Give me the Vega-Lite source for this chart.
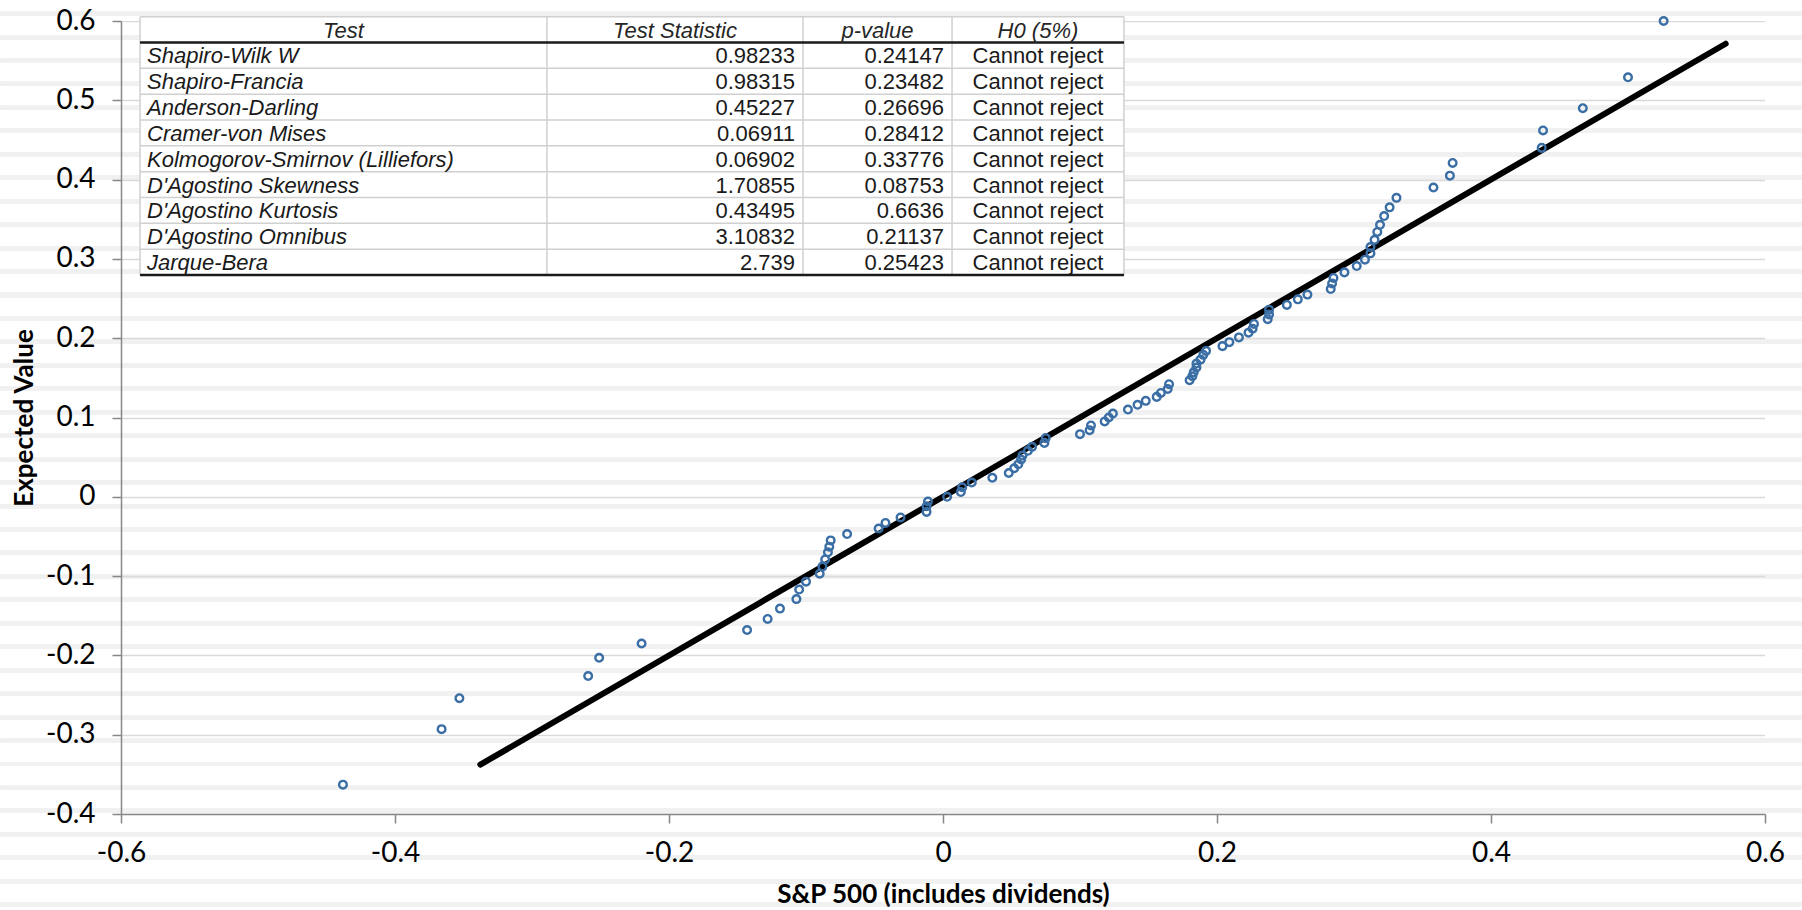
{
  "$schema": "https://vega.github.io/schema/vega-lite/v6.json",
  "width": 1644,
  "height": 793,
  "autosize": {"type": "none"},
  "padding": {"left": 121, "top": 21, "right": 37, "bottom": 96},
  "background": "#ffffff",
  "datasets": {
    "qq": [
      {"sp500": -0.438, "expected": -0.363},
      {"sp500": -0.366, "expected": -0.293},
      {"sp500": -0.353, "expected": -0.254},
      {"sp500": -0.259, "expected": -0.226},
      {"sp500": -0.251, "expected": -0.203},
      {"sp500": -0.220, "expected": -0.185},
      {"sp500": -0.143, "expected": -0.168},
      {"sp500": -0.128, "expected": -0.154},
      {"sp500": -0.119, "expected": -0.141},
      {"sp500": -0.107, "expected": -0.129},
      {"sp500": -0.105, "expected": -0.117},
      {"sp500": -0.100, "expected": -0.107},
      {"sp500": -0.090, "expected": -0.097},
      {"sp500": -0.088, "expected": -0.088},
      {"sp500": -0.086, "expected": -0.079},
      {"sp500": -0.084, "expected": -0.070},
      {"sp500": -0.083, "expected": -0.063},
      {"sp500": -0.082, "expected": -0.055},
      {"sp500": -0.070, "expected": -0.047},
      {"sp500": -0.047, "expected": -0.040},
      {"sp500": -0.042, "expected": -0.033},
      {"sp500": -0.031, "expected": -0.026},
      {"sp500": -0.012, "expected": -0.019},
      {"sp500": -0.012, "expected": -0.012},
      {"sp500": -0.011, "expected": -0.006},
      {"sp500": 0.003, "expected": 0.000},
      {"sp500": 0.013, "expected": 0.006},
      {"sp500": 0.014, "expected": 0.012},
      {"sp500": 0.021, "expected": 0.018},
      {"sp500": 0.036, "expected": 0.024},
      {"sp500": 0.048, "expected": 0.030},
      {"sp500": 0.052, "expected": 0.036},
      {"sp500": 0.055, "expected": 0.041},
      {"sp500": 0.057, "expected": 0.047},
      {"sp500": 0.058, "expected": 0.052},
      {"sp500": 0.062, "expected": 0.058},
      {"sp500": 0.065, "expected": 0.063},
      {"sp500": 0.074, "expected": 0.068},
      {"sp500": 0.075, "expected": 0.074},
      {"sp500": 0.100, "expected": 0.079},
      {"sp500": 0.107, "expected": 0.084},
      {"sp500": 0.108, "expected": 0.090},
      {"sp500": 0.118, "expected": 0.095},
      {"sp500": 0.121, "expected": 0.100},
      {"sp500": 0.124, "expected": 0.105},
      {"sp500": 0.135, "expected": 0.110},
      {"sp500": 0.142, "expected": 0.116},
      {"sp500": 0.148, "expected": 0.121},
      {"sp500": 0.156, "expected": 0.126},
      {"sp500": 0.159, "expected": 0.131},
      {"sp500": 0.164, "expected": 0.136},
      {"sp500": 0.165, "expected": 0.142},
      {"sp500": 0.180, "expected": 0.147},
      {"sp500": 0.182, "expected": 0.152},
      {"sp500": 0.183, "expected": 0.157},
      {"sp500": 0.185, "expected": 0.163},
      {"sp500": 0.185, "expected": 0.168},
      {"sp500": 0.188, "expected": 0.173},
      {"sp500": 0.190, "expected": 0.179},
      {"sp500": 0.192, "expected": 0.184},
      {"sp500": 0.204, "expected": 0.190},
      {"sp500": 0.209, "expected": 0.195},
      {"sp500": 0.216, "expected": 0.201},
      {"sp500": 0.223, "expected": 0.207},
      {"sp500": 0.226, "expected": 0.212},
      {"sp500": 0.227, "expected": 0.218},
      {"sp500": 0.237, "expected": 0.224},
      {"sp500": 0.238, "expected": 0.230},
      {"sp500": 0.238, "expected": 0.236},
      {"sp500": 0.251, "expected": 0.242},
      {"sp500": 0.259, "expected": 0.249},
      {"sp500": 0.266, "expected": 0.255},
      {"sp500": 0.283, "expected": 0.262},
      {"sp500": 0.284, "expected": 0.269},
      {"sp500": 0.285, "expected": 0.276},
      {"sp500": 0.293, "expected": 0.283},
      {"sp500": 0.302, "expected": 0.291},
      {"sp500": 0.308, "expected": 0.299},
      {"sp500": 0.312, "expected": 0.307},
      {"sp500": 0.312, "expected": 0.315},
      {"sp500": 0.315, "expected": 0.324},
      {"sp500": 0.317, "expected": 0.334},
      {"sp500": 0.319, "expected": 0.343},
      {"sp500": 0.322, "expected": 0.354},
      {"sp500": 0.326, "expected": 0.365},
      {"sp500": 0.331, "expected": 0.377},
      {"sp500": 0.358, "expected": 0.390},
      {"sp500": 0.370, "expected": 0.405},
      {"sp500": 0.372, "expected": 0.421},
      {"sp500": 0.437, "expected": 0.440},
      {"sp500": 0.438, "expected": 0.462},
      {"sp500": 0.467, "expected": 0.490},
      {"sp500": 0.500, "expected": 0.529},
      {"sp500": 0.526, "expected": 0.600}
    ],
    "fit": [
      {"sp500": -0.3377, "expected": -0.3377},
      {"sp500": 0.5713, "expected": 0.5713}
    ],
    "header": [
      {"row": 0, "c1": "Test", "c2": "Test Statistic", "c3": "p-value", "c4": "H0 (5%)"}
    ],
    "tests": [
      {"row": 1, "test": "Shapiro-Wilk W", "stat": "0.98233", "p": "0.24147", "h0": "Cannot reject"},
      {"row": 2, "test": "Shapiro-Francia", "stat": "0.98315", "p": "0.23482", "h0": "Cannot reject"},
      {"row": 3, "test": "Anderson-Darling", "stat": "0.45227", "p": "0.26696", "h0": "Cannot reject"},
      {"row": 4, "test": "Cramer-von Mises", "stat": "0.06911", "p": "0.28412", "h0": "Cannot reject"},
      {"row": 5, "test": "Kolmogorov-Smirnov (Lilliefors)", "stat": "0.06902", "p": "0.33776", "h0": "Cannot reject"},
      {"row": 6, "test": "D'Agostino Skewness", "stat": "1.70855", "p": "0.08753", "h0": "Cannot reject"},
      {"row": 7, "test": "D'Agostino Kurtosis", "stat": "0.43495", "p": "0.6636", "h0": "Cannot reject"},
      {"row": 8, "test": "D'Agostino Omnibus", "stat": "3.10832", "p": "0.21137", "h0": "Cannot reject"},
      {"row": 9, "test": "Jarque-Bera", "stat": "2.739", "p": "0.25423", "h0": "Cannot reject"}
    ],
    "hthin": [{"at": -0.5}, {"at": 1.5}, {"at": 2.5}, {"at": 3.5}, {"at": 4.5}, {"at": 5.5}, {"at": 6.5}, {"at": 7.5}, {"at": 8.5}],
    "hthick": [{"at": 0.5}, {"at": 9.5}],
    "vlines": [{"at": -0.5861}, {"at": -0.2891}, {"at": -0.1022}, {"at": 0.0066}, {"at": 0.1321}]
  },
  "config": {
    "view": {
      "stroke": null,
      "fill": {"gradient": "linear", "x1": 0, "y1": 0, "x2": 0, "y2": 1, "stops": [
        {"offset":0,"color":"#fff"},
        {"offset":0.01709,"color":"#fff"},{"offset":0.01709,"color":"#f1f1f1"},{"offset":0.02339,"color":"#f1f1f1"},{"offset":0.02339,"color":"#fff"},
        {"offset":0.04666,"color":"#fff"},{"offset":0.04666,"color":"#f1f1f1"},{"offset":0.05296,"color":"#f1f1f1"},{"offset":0.05296,"color":"#fff"},
        {"offset":0.07623,"color":"#fff"},{"offset":0.07623,"color":"#f1f1f1"},{"offset":0.08254,"color":"#f1f1f1"},{"offset":0.08254,"color":"#fff"},
        {"offset":0.10580,"color":"#fff"},{"offset":0.10580,"color":"#f1f1f1"},{"offset":0.11211,"color":"#f1f1f1"},{"offset":0.11211,"color":"#fff"},
        {"offset":0.13537,"color":"#fff"},{"offset":0.13537,"color":"#f1f1f1"},{"offset":0.14168,"color":"#f1f1f1"},{"offset":0.14168,"color":"#fff"},
        {"offset":0.16494,"color":"#fff"},{"offset":0.16494,"color":"#f1f1f1"},{"offset":0.17125,"color":"#f1f1f1"},{"offset":0.17125,"color":"#fff"},
        {"offset":0.19451,"color":"#fff"},{"offset":0.19451,"color":"#f1f1f1"},{"offset":0.20082,"color":"#f1f1f1"},{"offset":0.20082,"color":"#fff"},
        {"offset":0.22409,"color":"#fff"},{"offset":0.22409,"color":"#f1f1f1"},{"offset":0.23039,"color":"#f1f1f1"},{"offset":0.23039,"color":"#fff"},
        {"offset":0.25366,"color":"#fff"},{"offset":0.25366,"color":"#f1f1f1"},{"offset":0.25996,"color":"#f1f1f1"},{"offset":0.25996,"color":"#fff"},
        {"offset":0.28323,"color":"#fff"},{"offset":0.28323,"color":"#f1f1f1"},{"offset":0.28953,"color":"#f1f1f1"},{"offset":0.28953,"color":"#fff"},
        {"offset":0.31280,"color":"#fff"},{"offset":0.31280,"color":"#f1f1f1"},{"offset":0.31911,"color":"#f1f1f1"},{"offset":0.31911,"color":"#fff"},
        {"offset":0.34237,"color":"#fff"},{"offset":0.34237,"color":"#f1f1f1"},{"offset":0.34868,"color":"#f1f1f1"},{"offset":0.34868,"color":"#fff"},
        {"offset":0.37194,"color":"#fff"},{"offset":0.37194,"color":"#f1f1f1"},{"offset":0.37825,"color":"#f1f1f1"},{"offset":0.37825,"color":"#fff"},
        {"offset":0.40151,"color":"#fff"},{"offset":0.40151,"color":"#f1f1f1"},{"offset":0.40782,"color":"#f1f1f1"},{"offset":0.40782,"color":"#fff"},
        {"offset":0.43108,"color":"#fff"},{"offset":0.43108,"color":"#f1f1f1"},{"offset":0.43739,"color":"#f1f1f1"},{"offset":0.43739,"color":"#fff"},
        {"offset":0.46066,"color":"#fff"},{"offset":0.46066,"color":"#f1f1f1"},{"offset":0.46696,"color":"#f1f1f1"},{"offset":0.46696,"color":"#fff"},
        {"offset":0.49023,"color":"#fff"},{"offset":0.49023,"color":"#f1f1f1"},{"offset":0.49653,"color":"#f1f1f1"},{"offset":0.49653,"color":"#fff"},
        {"offset":0.51980,"color":"#fff"},{"offset":0.51980,"color":"#f1f1f1"},{"offset":0.52610,"color":"#f1f1f1"},{"offset":0.52610,"color":"#fff"},
        {"offset":0.54937,"color":"#fff"},{"offset":0.54937,"color":"#f1f1f1"},{"offset":0.55568,"color":"#f1f1f1"},{"offset":0.55568,"color":"#fff"},
        {"offset":0.57894,"color":"#fff"},{"offset":0.57894,"color":"#f1f1f1"},{"offset":0.58525,"color":"#f1f1f1"},{"offset":0.58525,"color":"#fff"},
        {"offset":0.60851,"color":"#fff"},{"offset":0.60851,"color":"#f1f1f1"},{"offset":0.61482,"color":"#f1f1f1"},{"offset":0.61482,"color":"#fff"},
        {"offset":0.63808,"color":"#fff"},{"offset":0.63808,"color":"#f1f1f1"},{"offset":0.64439,"color":"#f1f1f1"},{"offset":0.64439,"color":"#fff"},
        {"offset":0.66765,"color":"#fff"},{"offset":0.66765,"color":"#f1f1f1"},{"offset":0.67396,"color":"#f1f1f1"},{"offset":0.67396,"color":"#fff"},
        {"offset":0.69723,"color":"#fff"},{"offset":0.69723,"color":"#f1f1f1"},{"offset":0.70353,"color":"#f1f1f1"},{"offset":0.70353,"color":"#fff"},
        {"offset":0.72680,"color":"#fff"},{"offset":0.72680,"color":"#f1f1f1"},{"offset":0.73310,"color":"#f1f1f1"},{"offset":0.73310,"color":"#fff"},
        {"offset":0.75637,"color":"#fff"},{"offset":0.75637,"color":"#f1f1f1"},{"offset":0.76267,"color":"#f1f1f1"},{"offset":0.76267,"color":"#fff"},
        {"offset":0.78594,"color":"#fff"},{"offset":0.78594,"color":"#f1f1f1"},{"offset":0.79225,"color":"#f1f1f1"},{"offset":0.79225,"color":"#fff"},
        {"offset":0.81551,"color":"#fff"},{"offset":0.81551,"color":"#f1f1f1"},{"offset":0.82182,"color":"#f1f1f1"},{"offset":0.82182,"color":"#fff"},
        {"offset":0.84508,"color":"#fff"},{"offset":0.84508,"color":"#f1f1f1"},{"offset":0.85139,"color":"#f1f1f1"},{"offset":0.85139,"color":"#fff"},
        {"offset":0.87465,"color":"#fff"},{"offset":0.87465,"color":"#f1f1f1"},{"offset":0.88096,"color":"#f1f1f1"},{"offset":0.88096,"color":"#fff"},
        {"offset":0.90422,"color":"#fff"},{"offset":0.90422,"color":"#f1f1f1"},{"offset":0.91053,"color":"#f1f1f1"},{"offset":0.91053,"color":"#fff"},
        {"offset":0.93380,"color":"#fff"},{"offset":0.93380,"color":"#f1f1f1"},{"offset":0.94010,"color":"#f1f1f1"},{"offset":0.94010,"color":"#fff"},
        {"offset":0.96337,"color":"#fff"},{"offset":0.96337,"color":"#f1f1f1"},{"offset":0.96967,"color":"#f1f1f1"},{"offset":0.96967,"color":"#fff"},
        {"offset":0.99294,"color":"#fff"},{"offset":0.99294,"color":"#f1f1f1"},{"offset":0.99924,"color":"#f1f1f1"},{"offset":0.99924,"color":"#fff"},
        {"offset":1,"color":"#fff"}
      ]}
    },
    "axis": {
      "labelFont": "Lato",
      "labelFontSize": 28,
      "labelColor": "#000000",
      "titleFont": "Lato",
      "titleFontSize": 26,
      "titleFontWeight": "bold",
      "titleColor": "#000000",
      "domainColor": "#878787",
      "domainWidth": 1.5,
      "tickColor": "#878787",
      "tickWidth": 1.5,
      "tickSize": 9,
      "gridColor": "#d9d9d9",
      "gridWidth": 1.5
    }
  },
  "resolve": {"scale": {"y": "independent"}, "axis": {"y": "independent", "x": "independent"}},
  "layer": [
    {
      "data": {"values": [{}]},
      "mark": {"type": "rect", "fill": {"gradient": "linear", "x1": 0, "y1": 0, "x2": 0, "y2": 1, "stops": [
        {"offset":0,"color":"#fff"},
        {"offset":0.01709,"color":"#fff"},{"offset":0.01709,"color":"#f1f1f1"},{"offset":0.02339,"color":"#f1f1f1"},{"offset":0.02339,"color":"#fff"},
        {"offset":0.04666,"color":"#fff"},{"offset":0.04666,"color":"#f1f1f1"},{"offset":0.05296,"color":"#f1f1f1"},{"offset":0.05296,"color":"#fff"},
        {"offset":0.07623,"color":"#fff"},{"offset":0.07623,"color":"#f1f1f1"},{"offset":0.08254,"color":"#f1f1f1"},{"offset":0.08254,"color":"#fff"},
        {"offset":0.10580,"color":"#fff"},{"offset":0.10580,"color":"#f1f1f1"},{"offset":0.11211,"color":"#f1f1f1"},{"offset":0.11211,"color":"#fff"},
        {"offset":0.13537,"color":"#fff"},{"offset":0.13537,"color":"#f1f1f1"},{"offset":0.14168,"color":"#f1f1f1"},{"offset":0.14168,"color":"#fff"},
        {"offset":0.16494,"color":"#fff"},{"offset":0.16494,"color":"#f1f1f1"},{"offset":0.17125,"color":"#f1f1f1"},{"offset":0.17125,"color":"#fff"},
        {"offset":0.19451,"color":"#fff"},{"offset":0.19451,"color":"#f1f1f1"},{"offset":0.20082,"color":"#f1f1f1"},{"offset":0.20082,"color":"#fff"},
        {"offset":0.22409,"color":"#fff"},{"offset":0.22409,"color":"#f1f1f1"},{"offset":0.23039,"color":"#f1f1f1"},{"offset":0.23039,"color":"#fff"},
        {"offset":0.25366,"color":"#fff"},{"offset":0.25366,"color":"#f1f1f1"},{"offset":0.25996,"color":"#f1f1f1"},{"offset":0.25996,"color":"#fff"},
        {"offset":0.28323,"color":"#fff"},{"offset":0.28323,"color":"#f1f1f1"},{"offset":0.28953,"color":"#f1f1f1"},{"offset":0.28953,"color":"#fff"},
        {"offset":0.31280,"color":"#fff"},{"offset":0.31280,"color":"#f1f1f1"},{"offset":0.31911,"color":"#f1f1f1"},{"offset":0.31911,"color":"#fff"},
        {"offset":0.34237,"color":"#fff"},{"offset":0.34237,"color":"#f1f1f1"},{"offset":0.34868,"color":"#f1f1f1"},{"offset":0.34868,"color":"#fff"},
        {"offset":0.37194,"color":"#fff"},{"offset":0.37194,"color":"#f1f1f1"},{"offset":0.37825,"color":"#f1f1f1"},{"offset":0.37825,"color":"#fff"},
        {"offset":0.40151,"color":"#fff"},{"offset":0.40151,"color":"#f1f1f1"},{"offset":0.40782,"color":"#f1f1f1"},{"offset":0.40782,"color":"#fff"},
        {"offset":0.43108,"color":"#fff"},{"offset":0.43108,"color":"#f1f1f1"},{"offset":0.43739,"color":"#f1f1f1"},{"offset":0.43739,"color":"#fff"},
        {"offset":0.46066,"color":"#fff"},{"offset":0.46066,"color":"#f1f1f1"},{"offset":0.46696,"color":"#f1f1f1"},{"offset":0.46696,"color":"#fff"},
        {"offset":0.49023,"color":"#fff"},{"offset":0.49023,"color":"#f1f1f1"},{"offset":0.49653,"color":"#f1f1f1"},{"offset":0.49653,"color":"#fff"},
        {"offset":0.51980,"color":"#fff"},{"offset":0.51980,"color":"#f1f1f1"},{"offset":0.52610,"color":"#f1f1f1"},{"offset":0.52610,"color":"#fff"},
        {"offset":0.54937,"color":"#fff"},{"offset":0.54937,"color":"#f1f1f1"},{"offset":0.55568,"color":"#f1f1f1"},{"offset":0.55568,"color":"#fff"},
        {"offset":0.57894,"color":"#fff"},{"offset":0.57894,"color":"#f1f1f1"},{"offset":0.58525,"color":"#f1f1f1"},{"offset":0.58525,"color":"#fff"},
        {"offset":0.60851,"color":"#fff"},{"offset":0.60851,"color":"#f1f1f1"},{"offset":0.61482,"color":"#f1f1f1"},{"offset":0.61482,"color":"#fff"},
        {"offset":0.63808,"color":"#fff"},{"offset":0.63808,"color":"#f1f1f1"},{"offset":0.64439,"color":"#f1f1f1"},{"offset":0.64439,"color":"#fff"},
        {"offset":0.66765,"color":"#fff"},{"offset":0.66765,"color":"#f1f1f1"},{"offset":0.67396,"color":"#f1f1f1"},{"offset":0.67396,"color":"#fff"},
        {"offset":0.69723,"color":"#fff"},{"offset":0.69723,"color":"#f1f1f1"},{"offset":0.70353,"color":"#f1f1f1"},{"offset":0.70353,"color":"#fff"},
        {"offset":0.72680,"color":"#fff"},{"offset":0.72680,"color":"#f1f1f1"},{"offset":0.73310,"color":"#f1f1f1"},{"offset":0.73310,"color":"#fff"},
        {"offset":0.75637,"color":"#fff"},{"offset":0.75637,"color":"#f1f1f1"},{"offset":0.76267,"color":"#f1f1f1"},{"offset":0.76267,"color":"#fff"},
        {"offset":0.78594,"color":"#fff"},{"offset":0.78594,"color":"#f1f1f1"},{"offset":0.79225,"color":"#f1f1f1"},{"offset":0.79225,"color":"#fff"},
        {"offset":0.81551,"color":"#fff"},{"offset":0.81551,"color":"#f1f1f1"},{"offset":0.82182,"color":"#f1f1f1"},{"offset":0.82182,"color":"#fff"},
        {"offset":0.84508,"color":"#fff"},{"offset":0.84508,"color":"#f1f1f1"},{"offset":0.85139,"color":"#f1f1f1"},{"offset":0.85139,"color":"#fff"},
        {"offset":0.87465,"color":"#fff"},{"offset":0.87465,"color":"#f1f1f1"},{"offset":0.88096,"color":"#f1f1f1"},{"offset":0.88096,"color":"#fff"},
        {"offset":0.90422,"color":"#fff"},{"offset":0.90422,"color":"#f1f1f1"},{"offset":0.91053,"color":"#f1f1f1"},{"offset":0.91053,"color":"#fff"},
        {"offset":0.93380,"color":"#fff"},{"offset":0.93380,"color":"#f1f1f1"},{"offset":0.94010,"color":"#f1f1f1"},{"offset":0.94010,"color":"#fff"},
        {"offset":0.96337,"color":"#fff"},{"offset":0.96337,"color":"#f1f1f1"},{"offset":0.96967,"color":"#f1f1f1"},{"offset":0.96967,"color":"#fff"},
        {"offset":0.99294,"color":"#fff"},{"offset":0.99294,"color":"#f1f1f1"},{"offset":0.99924,"color":"#f1f1f1"},{"offset":0.99924,"color":"#fff"},
        {"offset":1,"color":"#fff"}
      ]}},
      "encoding": {
        "x": {"datum": -0.6883, "axis": null},
        "x2": {"datum": -0.6},
        "y": {"datum": 0.6, "scale": {"domain": [-0.4, 0.6], "nice": false, "zero": false},
              "axis": {"orient": "left", "values": [-0.4,-0.3,-0.2,-0.1,0,0.1,0.2,0.3,0.4,0.5,0.6], "grid": true, "domain": false, "ticks": false, "labels": false, "title": null, "minExtent": 0, "maxExtent": 0, "zindex": 0}},
        "y2": {"datum": -0.4}
      }
    },
    {
      "data": {"values": [{}]},
      "mark": {"type": "rect", "fill": {"gradient": "linear", "x1": 0, "y1": 0, "x2": 0, "y2": 1, "stops": [
        {"offset":0,"color":"#fff"},
        {"offset":0.01709,"color":"#fff"},{"offset":0.01709,"color":"#f1f1f1"},{"offset":0.02339,"color":"#f1f1f1"},{"offset":0.02339,"color":"#fff"},
        {"offset":0.04666,"color":"#fff"},{"offset":0.04666,"color":"#f1f1f1"},{"offset":0.05296,"color":"#f1f1f1"},{"offset":0.05296,"color":"#fff"},
        {"offset":0.07623,"color":"#fff"},{"offset":0.07623,"color":"#f1f1f1"},{"offset":0.08254,"color":"#f1f1f1"},{"offset":0.08254,"color":"#fff"},
        {"offset":0.10580,"color":"#fff"},{"offset":0.10580,"color":"#f1f1f1"},{"offset":0.11211,"color":"#f1f1f1"},{"offset":0.11211,"color":"#fff"},
        {"offset":0.13537,"color":"#fff"},{"offset":0.13537,"color":"#f1f1f1"},{"offset":0.14168,"color":"#f1f1f1"},{"offset":0.14168,"color":"#fff"},
        {"offset":0.16494,"color":"#fff"},{"offset":0.16494,"color":"#f1f1f1"},{"offset":0.17125,"color":"#f1f1f1"},{"offset":0.17125,"color":"#fff"},
        {"offset":0.19451,"color":"#fff"},{"offset":0.19451,"color":"#f1f1f1"},{"offset":0.20082,"color":"#f1f1f1"},{"offset":0.20082,"color":"#fff"},
        {"offset":0.22409,"color":"#fff"},{"offset":0.22409,"color":"#f1f1f1"},{"offset":0.23039,"color":"#f1f1f1"},{"offset":0.23039,"color":"#fff"},
        {"offset":0.25366,"color":"#fff"},{"offset":0.25366,"color":"#f1f1f1"},{"offset":0.25996,"color":"#f1f1f1"},{"offset":0.25996,"color":"#fff"},
        {"offset":0.28323,"color":"#fff"},{"offset":0.28323,"color":"#f1f1f1"},{"offset":0.28953,"color":"#f1f1f1"},{"offset":0.28953,"color":"#fff"},
        {"offset":0.31280,"color":"#fff"},{"offset":0.31280,"color":"#f1f1f1"},{"offset":0.31911,"color":"#f1f1f1"},{"offset":0.31911,"color":"#fff"},
        {"offset":0.34237,"color":"#fff"},{"offset":0.34237,"color":"#f1f1f1"},{"offset":0.34868,"color":"#f1f1f1"},{"offset":0.34868,"color":"#fff"},
        {"offset":0.37194,"color":"#fff"},{"offset":0.37194,"color":"#f1f1f1"},{"offset":0.37825,"color":"#f1f1f1"},{"offset":0.37825,"color":"#fff"},
        {"offset":0.40151,"color":"#fff"},{"offset":0.40151,"color":"#f1f1f1"},{"offset":0.40782,"color":"#f1f1f1"},{"offset":0.40782,"color":"#fff"},
        {"offset":0.43108,"color":"#fff"},{"offset":0.43108,"color":"#f1f1f1"},{"offset":0.43739,"color":"#f1f1f1"},{"offset":0.43739,"color":"#fff"},
        {"offset":0.46066,"color":"#fff"},{"offset":0.46066,"color":"#f1f1f1"},{"offset":0.46696,"color":"#f1f1f1"},{"offset":0.46696,"color":"#fff"},
        {"offset":0.49023,"color":"#fff"},{"offset":0.49023,"color":"#f1f1f1"},{"offset":0.49653,"color":"#f1f1f1"},{"offset":0.49653,"color":"#fff"},
        {"offset":0.51980,"color":"#fff"},{"offset":0.51980,"color":"#f1f1f1"},{"offset":0.52610,"color":"#f1f1f1"},{"offset":0.52610,"color":"#fff"},
        {"offset":0.54937,"color":"#fff"},{"offset":0.54937,"color":"#f1f1f1"},{"offset":0.55568,"color":"#f1f1f1"},{"offset":0.55568,"color":"#fff"},
        {"offset":0.57894,"color":"#fff"},{"offset":0.57894,"color":"#f1f1f1"},{"offset":0.58525,"color":"#f1f1f1"},{"offset":0.58525,"color":"#fff"},
        {"offset":0.60851,"color":"#fff"},{"offset":0.60851,"color":"#f1f1f1"},{"offset":0.61482,"color":"#f1f1f1"},{"offset":0.61482,"color":"#fff"},
        {"offset":0.63808,"color":"#fff"},{"offset":0.63808,"color":"#f1f1f1"},{"offset":0.64439,"color":"#f1f1f1"},{"offset":0.64439,"color":"#fff"},
        {"offset":0.66765,"color":"#fff"},{"offset":0.66765,"color":"#f1f1f1"},{"offset":0.67396,"color":"#f1f1f1"},{"offset":0.67396,"color":"#fff"},
        {"offset":0.69723,"color":"#fff"},{"offset":0.69723,"color":"#f1f1f1"},{"offset":0.70353,"color":"#f1f1f1"},{"offset":0.70353,"color":"#fff"},
        {"offset":0.72680,"color":"#fff"},{"offset":0.72680,"color":"#f1f1f1"},{"offset":0.73310,"color":"#f1f1f1"},{"offset":0.73310,"color":"#fff"},
        {"offset":0.75637,"color":"#fff"},{"offset":0.75637,"color":"#f1f1f1"},{"offset":0.76267,"color":"#f1f1f1"},{"offset":0.76267,"color":"#fff"},
        {"offset":0.78594,"color":"#fff"},{"offset":0.78594,"color":"#f1f1f1"},{"offset":0.79225,"color":"#f1f1f1"},{"offset":0.79225,"color":"#fff"},
        {"offset":0.81551,"color":"#fff"},{"offset":0.81551,"color":"#f1f1f1"},{"offset":0.82182,"color":"#f1f1f1"},{"offset":0.82182,"color":"#fff"},
        {"offset":0.84508,"color":"#fff"},{"offset":0.84508,"color":"#f1f1f1"},{"offset":0.85139,"color":"#f1f1f1"},{"offset":0.85139,"color":"#fff"},
        {"offset":0.87465,"color":"#fff"},{"offset":0.87465,"color":"#f1f1f1"},{"offset":0.88096,"color":"#f1f1f1"},{"offset":0.88096,"color":"#fff"},
        {"offset":0.90422,"color":"#fff"},{"offset":0.90422,"color":"#f1f1f1"},{"offset":0.91053,"color":"#f1f1f1"},{"offset":0.91053,"color":"#fff"},
        {"offset":0.93380,"color":"#fff"},{"offset":0.93380,"color":"#f1f1f1"},{"offset":0.94010,"color":"#f1f1f1"},{"offset":0.94010,"color":"#fff"},
        {"offset":0.96337,"color":"#fff"},{"offset":0.96337,"color":"#f1f1f1"},{"offset":0.96967,"color":"#f1f1f1"},{"offset":0.96967,"color":"#fff"},
        {"offset":0.99294,"color":"#fff"},{"offset":0.99294,"color":"#f1f1f1"},{"offset":0.99924,"color":"#f1f1f1"},{"offset":0.99924,"color":"#fff"},
        {"offset":1,"color":"#fff"}
      ]}},
      "encoding": {
        "x": {"datum": 0.6, "axis": null},
        "x2": {"datum": 0.6271},
        "y": {"datum": 0.6, "scale": {"domain": [-0.4, 0.6], "nice": false, "zero": false}, "axis": null},
        "y2": {"datum": -0.4}
      }
    },
    {
      "data": {"values": [{}]},
      "mark": {"type": "rect", "fill": {"gradient": "linear", "x1": 0, "y1": 0, "x2": 0, "y2": 1, "stops": [
        {"offset":0,"color":"#fff"},
        {"offset":0.5286,"color":"#fff"},{"offset":0.5286,"color":"#f1f1f1"},{"offset":0.7667,"color":"#f1f1f1"},{"offset":0.7667,"color":"#fff"},
        {"offset":1,"color":"#fff"}
      ]}},
      "encoding": {
        "x": {"datum": -0.6883, "axis": null},
        "x2": {"datum": 0.6271},
        "y": {"datum": 0.6265, "scale": {"domain": [-0.4, 0.6], "nice": false, "zero": false}, "axis": null},
        "y2": {"datum": 0.6}
      }
    },
    {
      "data": {"values": [{}]},
      "mark": {"type": "rect", "fill": {"gradient": "linear", "x1": 0, "y1": 0, "x2": 0, "y2": 1, "stops": [
        {"offset":0,"color":"#fff"},
        {"offset":0.1859,"color":"#fff"},{"offset":0.1859,"color":"#f1f1f1"},{"offset":0.2380,"color":"#f1f1f1"},{"offset":0.2380,"color":"#fff"},
        {"offset":0.4302,"color":"#fff"},{"offset":0.4302,"color":"#f1f1f1"},{"offset":0.4823,"color":"#f1f1f1"},{"offset":0.4823,"color":"#fff"},
        {"offset":0.6745,"color":"#fff"},{"offset":0.6745,"color":"#f1f1f1"},{"offset":0.7266,"color":"#f1f1f1"},{"offset":0.7266,"color":"#fff"},
        {"offset":0.9188,"color":"#fff"},{"offset":0.9188,"color":"#f1f1f1"},{"offset":0.9708,"color":"#f1f1f1"},{"offset":0.9708,"color":"#fff"},
        {"offset":1,"color":"#fff"}
      ]}},
      "encoding": {
        "x": {"datum": -0.6883, "axis": null},
        "x2": {"datum": 0.6271},
        "y": {"datum": -0.4, "scale": {"domain": [-0.4, 0.6], "nice": false, "zero": false}, "axis": null},
        "y2": {"datum": -0.5211}
      }
    },
    {
      "data": {"values": [{}]},
      "mark": {"type": "rect", "fill": "#ffffff"},
      "encoding": {
        "x": {"datum": -0.5861, "axis": null},
        "x2": {"datum": 0.1321},
        "y": {"datum": -0.5, "scale": {"domain": [-0.3335, 30.367], "reverse": true, "nice": false, "zero": false}, "axis": null},
        "y2": {"datum": 9.5}
      }
    },
    {
      "data": {"name": "hthin"},
      "mark": {"type": "rule", "color": "#d0d0d0", "strokeWidth": 1.5},
      "encoding": {
        "x": {"datum": -0.5861, "axis": null},
        "x2": {"datum": 0.1321},
        "y": {"field": "at", "type": "quantitative", "scale": {"domain": [-0.3335, 30.367], "reverse": true, "nice": false, "zero": false}, "axis": null}
      }
    },
    {
      "data": {"name": "vlines"},
      "mark": {"type": "rule", "color": "#d0d0d0", "strokeWidth": 1.5},
      "encoding": {
        "x": {"field": "at", "type": "quantitative", "axis": null},
        "y": {"datum": -0.5, "scale": {"domain": [-0.3335, 30.367], "reverse": true, "nice": false, "zero": false}, "axis": null},
        "y2": {"datum": 9.5}
      }
    },
    {
      "data": {"name": "hthick"},
      "mark": {"type": "rule", "color": "#1a1a1a", "strokeWidth": 2.5},
      "encoding": {
        "x": {"datum": -0.5861, "axis": null},
        "x2": {"datum": 0.1321},
        "y": {"field": "at", "type": "quantitative", "scale": {"domain": [-0.3335, 30.367], "reverse": true, "nice": false, "zero": false}, "axis": null}
      }
    },
    {
      "data": {"name": "header"},
      "mark": {"type": "text", "font": "Liberation Sans", "fontSize": 22, "fontStyle": "italic", "color": "#262626", "align": "center", "baseline": "middle", "dy": 1},
      "encoding": {
        "x": {"datum": -0.4376, "axis": null},
        "y": {"field": "row", "type": "quantitative", "scale": {"domain": [-0.3335, 30.367], "reverse": true, "nice": false, "zero": false}, "axis": null},
        "text": {"field": "c1"}
      }
    },
    {
      "data": {"name": "header"},
      "mark": {"type": "text", "font": "Liberation Sans", "fontSize": 22, "fontStyle": "italic", "color": "#262626", "align": "center", "baseline": "middle", "dy": 1},
      "encoding": {
        "x": {"datum": -0.1956, "axis": null},
        "y": {"field": "row", "type": "quantitative", "scale": {"domain": [-0.3335, 30.367], "reverse": true, "nice": false, "zero": false}, "axis": null},
        "text": {"field": "c2"}
      }
    },
    {
      "data": {"name": "header"},
      "mark": {"type": "text", "font": "Liberation Sans", "fontSize": 22, "fontStyle": "italic", "color": "#262626", "align": "center", "baseline": "middle", "dy": 1},
      "encoding": {
        "x": {"datum": -0.0478, "axis": null},
        "y": {"field": "row", "type": "quantitative", "scale": {"domain": [-0.3335, 30.367], "reverse": true, "nice": false, "zero": false}, "axis": null},
        "text": {"field": "c3"}
      }
    },
    {
      "data": {"name": "header"},
      "mark": {"type": "text", "font": "Liberation Sans", "fontSize": 22, "fontStyle": "italic", "color": "#262626", "align": "center", "baseline": "middle", "dy": 1},
      "encoding": {
        "x": {"datum": 0.0693, "axis": null},
        "y": {"field": "row", "type": "quantitative", "scale": {"domain": [-0.3335, 30.367], "reverse": true, "nice": false, "zero": false}, "axis": null},
        "text": {"field": "c4"}
      }
    },
    {
      "data": {"name": "tests"},
      "mark": {"type": "text", "font": "Liberation Sans", "fontSize": 22, "fontStyle": "italic", "color": "#1a1a1a", "align": "left", "baseline": "middle", "dx": 7, "dy": 1},
      "encoding": {
        "x": {"datum": -0.5861, "axis": null},
        "y": {"field": "row", "type": "quantitative", "scale": {"domain": [-0.3335, 30.367], "reverse": true, "nice": false, "zero": false}, "axis": null},
        "text": {"field": "test"}
      }
    },
    {
      "data": {"name": "tests"},
      "mark": {"type": "text", "font": "Liberation Sans", "fontSize": 22, "color": "#1a1a1a", "align": "right", "baseline": "middle", "dx": -8, "dy": 1},
      "encoding": {
        "x": {"datum": -0.1022, "axis": null},
        "y": {"field": "row", "type": "quantitative", "scale": {"domain": [-0.3335, 30.367], "reverse": true, "nice": false, "zero": false}, "axis": null},
        "text": {"field": "stat"}
      }
    },
    {
      "data": {"name": "tests"},
      "mark": {"type": "text", "font": "Liberation Sans", "fontSize": 22, "color": "#1a1a1a", "align": "right", "baseline": "middle", "dx": -8, "dy": 1},
      "encoding": {
        "x": {"datum": 0.0066, "axis": null},
        "y": {"field": "row", "type": "quantitative", "scale": {"domain": [-0.3335, 30.367], "reverse": true, "nice": false, "zero": false}, "axis": null},
        "text": {"field": "p"}
      }
    },
    {
      "data": {"name": "tests"},
      "mark": {"type": "text", "font": "Liberation Sans", "fontSize": 22, "color": "#1a1a1a", "align": "center", "baseline": "middle", "dy": 1},
      "encoding": {
        "x": {"datum": 0.0693, "axis": null},
        "y": {"field": "row", "type": "quantitative", "scale": {"domain": [-0.3335, 30.367], "reverse": true, "nice": false, "zero": false}, "axis": null},
        "text": {"field": "h0"}
      }
    },
    {
      "data": {"name": "fit"},
      "mark": {"type": "line", "color": "#000000", "strokeWidth": 6, "strokeCap": "round"},
      "encoding": {
        "x": {"field": "sp500", "type": "quantitative", "axis": null},
        "y": {"field": "expected", "type": "quantitative", "scale": {"domain": [-0.4, 0.6], "nice": false, "zero": false}, "axis": null}
      }
    },
    {
      "data": {"name": "qq"},
      "mark": {"type": "point", "shape": "circle", "filled": false, "size": 58, "strokeWidth": 2.4, "color": "#3a6ea5", "opacity": 1},
      "encoding": {
        "x": {"field": "sp500", "type": "quantitative",
              "scale": {"domain": [-0.6, 0.6], "nice": false, "zero": false},
              "axis": {"orient": "bottom", "values": [-0.6,-0.4,-0.2,0,0.2,0.4,0.6], "grid": false, "labelFlush": false, "labelExpr": "'' + round(datum.value * 10) / 10", "labelPadding": 16, "title": "S&P 500 (includes dividends)", "titlePadding": 14, "zindex": 1}},
        "y": {"field": "expected", "type": "quantitative",
              "scale": {"domain": [-0.4, 0.6], "nice": false, "zero": false},
              "axis": {"orient": "left", "values": [-0.4,-0.3,-0.2,-0.1,0,0.1,0.2,0.3,0.4,0.5,0.6], "grid": false, "labelExpr": "'' + round(datum.value * 10) / 10", "labelPadding": 17, "title": "Expected Value", "titlePadding": 8, "zindex": 1}}
      }
    }
  ]
}
